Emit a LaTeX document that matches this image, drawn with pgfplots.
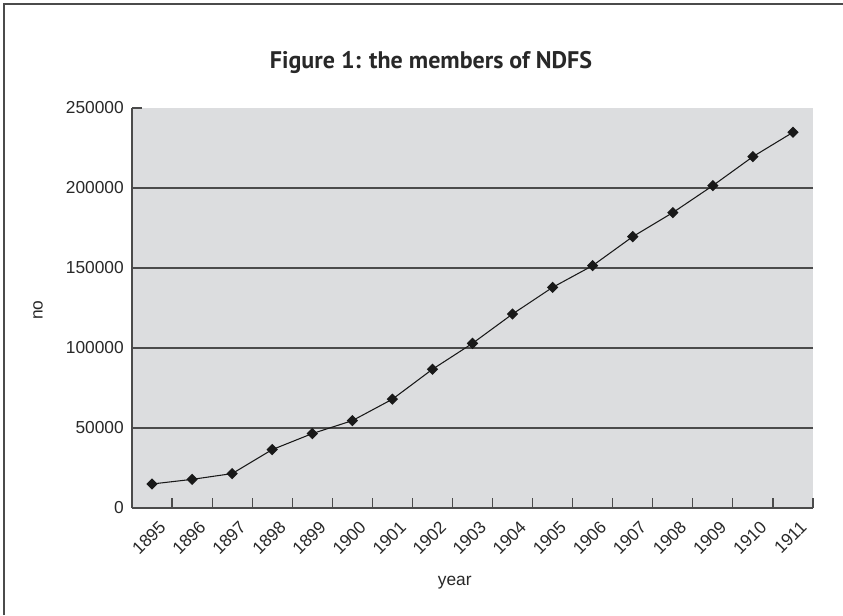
\documentclass[border=0pt]{standalone}
\usepackage{pgfplots}
\pgfplotsset{compat=1.18}
\usepackage{fontspec}
\setmainfont{Liberation Sans}
\newfontfamily\titlefont{PT Sans}
\definecolor{bg}{RGB}{220,221,223}
\definecolor{ax}{RGB}{75,75,75}
\definecolor{txt}{RGB}{40,40,40}
\begin{document}
\begin{tikzpicture}[x=0.75pt,y=0.75pt]
\path[use as bounding box] (0,0) rectangle (843,615);
\draw[color=ax, line width=1.1pt] (4,0) -- (4,611) -- (843,611);
\node[text=txt, font=\titlefont\bfseries\fontsize{18}{22}\selectfont] at (431,553) {Figure 1: the members of NDFS};
\begin{axis}[
  at={(99pt,80.25pt)}, anchor=south west,
  width=510.75pt, height=300pt, scale only axis,
  xmin=-0.5, xmax=16.5, ymin=0, ymax=250000,
  axis background/.style={fill=bg},
  axis x line=bottom, axis y line=left,
  x axis line style={-, color=ax, line width=0.9pt},
  y axis line style={-, color=ax, line width=0.9pt},
  tick align=inside,
  major tick length=7.5pt,
  xtick={0,...,16},
  xticklabels={1895,1896,1897,1898,1899,1900,1901,1902,1903,1904,1905,1906,1907,1908,1909,1910,1911},
  major x tick style={draw=none},
  minor xtick={-0.5,0.5,...,16.5},
  minor tick length=7.5pt,
  minor x tick style={color=ax, line width=0.9pt},
  ytick={0,50000,100000,150000,200000,250000},
  major y tick style={color=ax, line width=0.9pt},
  extra y ticks={50000,100000,150000,200000},
  extra y tick labels={},
  extra y tick style={grid=major, major grid style={color=ax, line width=0.9pt}},
  scaled y ticks=false,
  /pgf/number format/fixed,
  /pgf/number format/1000 sep={},
  /pgf/number format/assume math mode=true,
  ticklabel style={font=\fontsize{13}{15}\selectfont, text=txt},
  xticklabel style={xshift=8pt, yshift=-12pt, rotate=45, anchor=east, inner sep=0pt},
  yticklabel style={inner sep=0pt, xshift=-6pt},
  xlabel={year}, ylabel={no},
  label style={font=\fontsize{13}{15}\selectfont, text=txt},
  xlabel style={at={(axis description cs:0.474,-0.1875)}, anchor=center},
  ylabel style={at={(axis description cs:-0.138,0.495)}, anchor=center, rotate=0},
  clip=false,
]
\addplot[color=black!90, line width=0.8pt, mark=square*, mark size=2.6pt, mark options={rotate=45, fill=black!90}]
coordinates {
(0,15000) (1,17900) (2,21500) (3,36500) (4,46500) (5,54600) (6,68000) (7,86700)
(8,102900) (9,121250) (10,137900) (11,151500) (12,169600) (13,184600) (14,201500)
(15,219600) (16,234800)
};
\end{axis}
\end{tikzpicture}
\end{document}
